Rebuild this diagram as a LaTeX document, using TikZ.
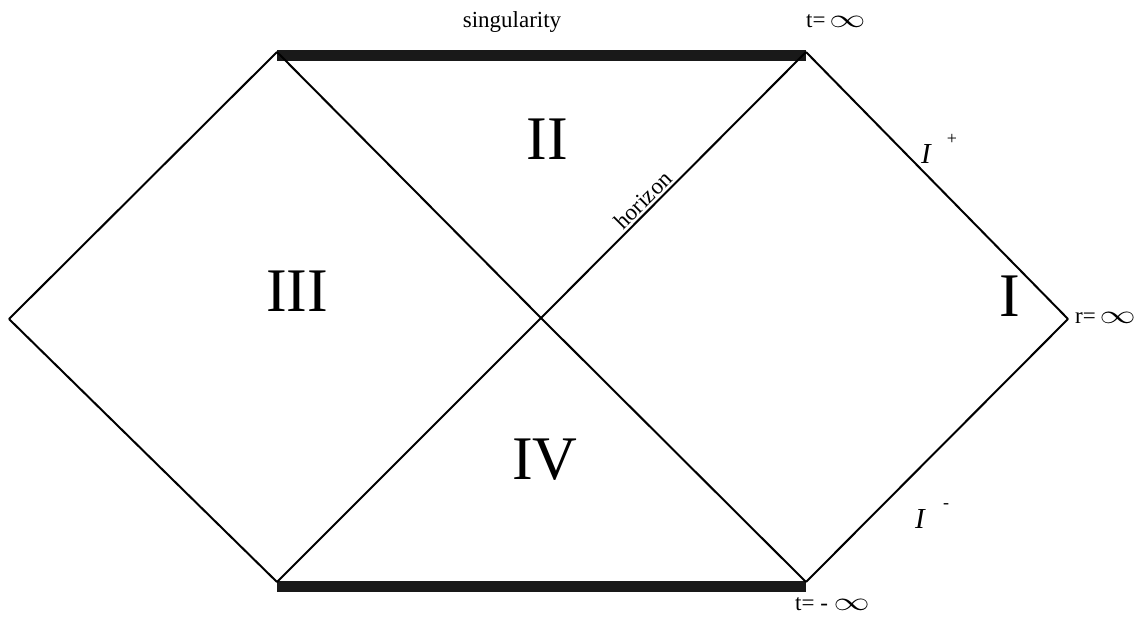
\documentclass[tikz,border=0pt]{standalone}
\usepackage{fontspec}
\setmainfont{Liberation Serif}
\newcommand{\myinf}{\scalebox{1.45}[1.05]{\(\infty\)}}
\begin{document}
\begin{tikzpicture}[x=1pt,y=-1pt,
  edge/.style={line width=2pt, line join=miter},
  bar/.style={fill=black!90, draw=none},
  roman/.style={font=\fontsize{62}{62}\selectfont, inner sep=0pt},
  lab/.style={font=\fontsize{23}{23}\selectfont, inner sep=0pt},
  scri/.style={font=\fontsize{29}{29}\selectfont\itshape, inner sep=0pt},
  sup/.style={font=\fontsize{18}{18}\selectfont, inner sep=0pt}]
\useasboundingbox (0,0) rectangle (1147,629);
\coordinate (L) at (9,319);
\coordinate (TL) at (277,52);
\coordinate (TR) at (806,52);
\coordinate (R) at (1068,319);
\coordinate (BR) at (806,582);
\coordinate (BL) at (277,582);
\coordinate (C) at (541,318);
% thick singularity bars
\fill[bar] (277,50) rectangle (806,61);
\fill[bar] (277,581) rectangle (806,592);
% diamond edges
\draw[edge] (L) -- (TL);
\draw[edge] (TL) -- (C);
\draw[edge] (C) -- (BR);
\draw[edge] (BR) -- (R);
\draw[edge] (R) -- (TR);
\draw[edge] (TR) -- (C);
\draw[edge] (C) -- (BL);
\draw[edge] (BL) -- (L);
% labels
\node[lab] (sing) at (512,22) {singularity};
\node[lab, anchor=west] (tinf) at (806,21) {t=\,\myinf};
\node[lab, anchor=west] (rinf) at (1075,318) {r=\,\myinf};
\node[lab, anchor=west] (tminf) at (795,604) {t= - \myinf};
\node[lab, rotate=45] (hor) at (643,200) {horizon};
\node[roman] (II) at (547,139) {II};
\node[roman] (III) at (297,291) {III};
\node[roman] (I) at (1010,296) {I};
\node[roman] (IV) at (545,460) {IV};
\node[scri] (Ip) at (926,154) {I};
\node[sup] (p) at (952,139) {+};
\node[scri] (Im) at (920,519) {I};
\node[sup] (m) at (946,506) {-};
\end{tikzpicture}
\end{document}
